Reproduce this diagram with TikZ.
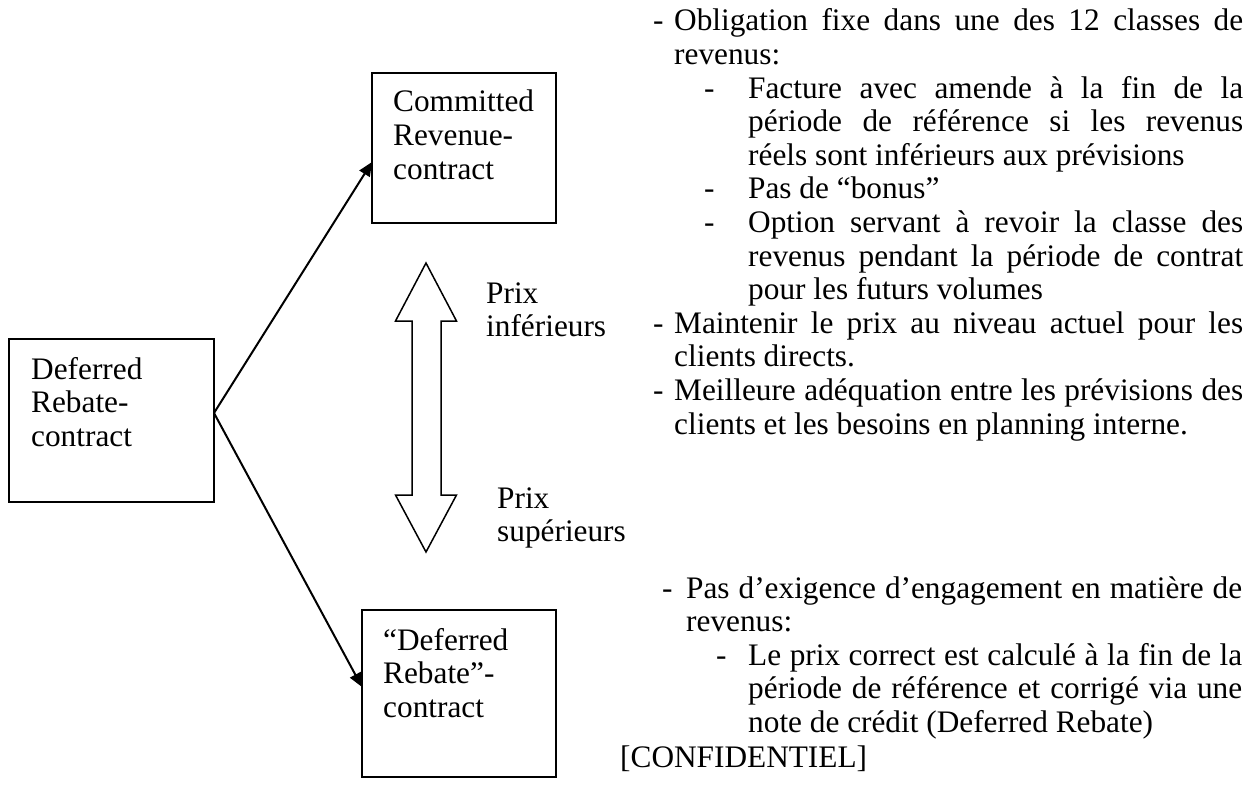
\documentclass[tikz,border=0pt]{standalone}
\usepackage{fontspec}
\setmainfont{Liberation Serif}
\usepackage{tikz}
\usetikzlibrary{positioning,arrows.meta}

\newcommand{\docfont}{\fontsize{31.3}{33.6}\selectfont}
\newcommand{\dashitem}[3]{\noindent\hangindent=#2\hangafter=1\hspace*{#1}\makebox[\dimexpr#2-#1\relax][l]{-}#3\par}

\begin{document}
\begin{tikzpicture}[x=1pt, y=-1pt,
  ctrbox/.style={rectangle, draw, line width=2pt, inner sep=0pt, outer sep=0pt},
  boxlabel/.style={anchor=base west, inner sep=0pt, text width=160pt, align=left, font=\docfont},
  notes/.style={anchor=base west, inner sep=0pt, align=justify, font=\docfont}]

  \useasboundingbox (0,0) rectangle (1248,797);

  % Boxes
  \node[ctrbox, minimum width=205pt, minimum height=163pt] (deferred) at (111.5,420.5) {};
  \node[ctrbox, minimum width=184pt, minimum height=150pt] (committed) at (464,148) {};
  \node[ctrbox, minimum width=194pt, minimum height=167pt] (rebate) at (459,693.5) {};

  \node[boxlabel] (deferredtxt) at ([shift={(22,40)}]deferred.north west) {Deferred\\Rebate-\\contract};
  \node[boxlabel] (committedtxt) at ([shift={(21,39)}]committed.north west) {Committed\\Revenue-\\contract};
  \node[boxlabel] (rebatetxt) at ([shift={(21,40)}]rebate.north west) {“Deferred\\Rebate”-\\contract};

  % Arrows
  \draw[-{Triangle[length=14pt,width=12pt]}, line width=2pt] ([yshift=7.5pt]deferred.east) -- ([yshift=-14pt]committed.west);
  \draw[-{Triangle[length=14pt,width=12pt]}, line width=2pt] ([yshift=7.5pt]deferred.east) -- ([yshift=6.5pt]rebate.west);

  % Price arrow
  \draw[line width=1.5pt] (426,263) -- (456.5,321) -- (441,321) -- (441,495) -- (456.5,495) -- (426,552)
    -- (395.5,495) -- (412,495) -- (412,321) -- (395.5,321) -- cycle;
  \node[boxlabel] (lower) at (486,303) {Prix\\inférieurs};
  \node[boxlabel] (higher) at (497,508) {Prix\\supérieurs};

  % Notes
  \node[notes, text width=590pt] (committednotes) at (653,31) {\hyphenpenalty=10000\exhyphenpenalty=10000%
    \dashitem{0pt}{21pt}{Obligation fixe dans une des 12 classes de\linebreak revenus:}
    \dashitem{51pt}{95pt}{Facture avec amende à la fin de la\linebreak période de référence si les revenus\linebreak réels sont inférieurs aux prévisions}
    \dashitem{51pt}{95pt}{Pas de “bonus”}
    \dashitem{51pt}{95pt}{Option servant à revoir la classe des\linebreak revenus pendant la période de contrat\linebreak pour les futurs volumes}
    \dashitem{0pt}{21pt}{Maintenir le prix au niveau actuel pour les\linebreak clients directs.}
    \dashitem{0pt}{21pt}{Meilleure adéquation entre les prévisions des\linebreak clients et les besoins en planning interne.}};
  \node[notes, text width=580pt] (rebatenotes) at (662,598) {\hyphenpenalty=10000\exhyphenpenalty=10000%
    \dashitem{0pt}{24pt}{Pas d’exigence d’engagement en matière de\linebreak revenus:}
    \dashitem{54pt}{86pt}{Le prix correct est calculé à la fin de la\linebreak période de référence et corrigé via une\linebreak note de crédit (Deferred Rebate)}};
  \node[anchor=base west, inner sep=0pt, font=\docfont] (confid) at (620,767) {[CONFIDENTIEL]};

\end{tikzpicture}
\end{document}
